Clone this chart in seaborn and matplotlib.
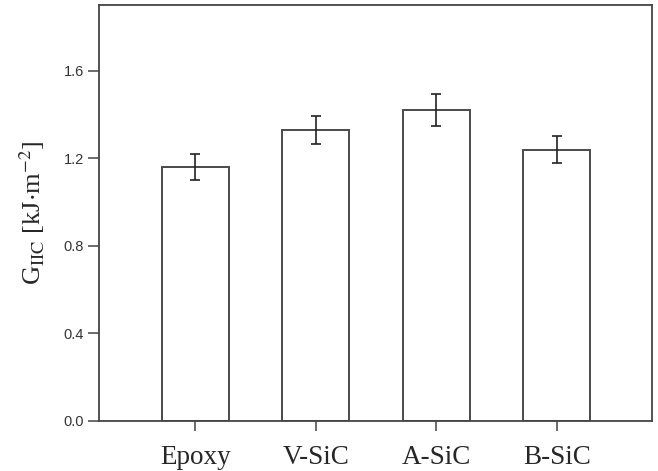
import matplotlib
matplotlib.use("Agg")
import matplotlib.pyplot as plt
import seaborn as sns
import pandas as pd

categories = ["Epoxy", "V-SiC", "A-SiC", "B-SiC"]
values = [1.16, 1.33, 1.42, 1.24]
errors = [0.06, 0.065, 0.072, 0.06]
yticks = [0.0, 0.4, 0.8, 1.2, 1.6]

sns.set_style("ticks")
plt.rcParams["font.family"] = ["Liberation Serif", "DejaVu Serif"]
plt.rcParams["mathtext.fontset"] = "stix"

df = pd.DataFrame({"cat": categories, "val": values})

fig = plt.figure(figsize=(6.58, 4.71), dpi=100)
ax = fig.add_axes([99 / 658, 50 / 471, 553 / 658, 416 / 471])

sns.barplot(data=df, x="cat", y="val", ax=ax, width=0.555, color="white",
            edgecolor="#4a4a4a", linewidth=1.4, errorbar=None)
ax.errorbar(range(len(categories)), values, yerr=errors, fmt="none",
            ecolor="#222222", elinewidth=1.2, capsize=3.3, capthick=1.2)

ax.set_xlim(-0.8, 3.79)
ax.set_ylim(0, 1.9)
ax.set_yticks(yticks)
ax.set_yticklabels([f"{t:.1f}" for t in yticks], family="Liberation Sans",
                   fontsize=10.5, color="#333333")
ax.set_xticks(range(len(categories)))
ax.set_xticklabels(categories, fontsize=19.5)
ax.tick_params(axis="y", length=8, width=1.1, color="#444444", pad=3)
ax.tick_params(axis="x", length=7, width=1.1, color="#444444", pad=10)
ax.set_xlabel("")
ax.set_ylabel(r"G$_{\mathrm{IIC}}$ [kJ$\cdot$m$^{-2}$]", fontsize=19, labelpad=12)
for s in ax.spines.values():
    s.set_visible(True)
    s.set_color("#444444")
    s.set_linewidth(1.3)

fig.savefig("out.png", dpi=100)
